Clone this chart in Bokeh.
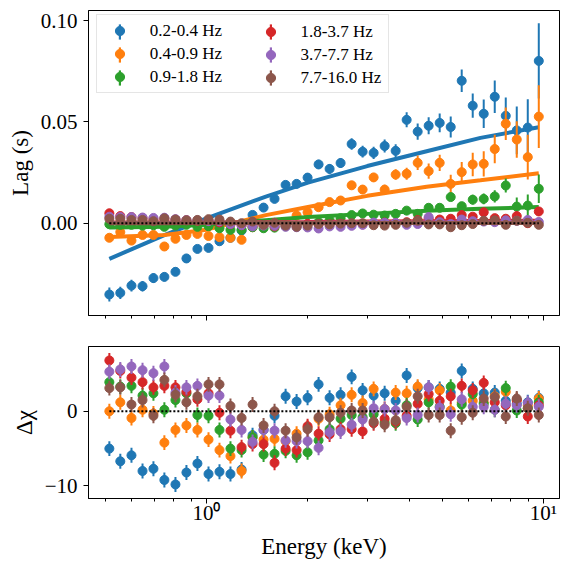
import numpy as np
from bokeh.plotting import figure
from bokeh.models import (Range1d, FixedTicker, Legend, LegendItem, ColumnDataSource,
                          NumeralTickFormatter)
from bokeh.layouts import column
from bokeh.embed import file_html
from bokeh.resources import INLINE

# ---------------- data ----------------
energy = [0.515, 0.555, 0.599, 0.646, 0.696, 0.750, 0.809, 0.872, 0.940, 1.014,
          1.093, 1.178, 1.271, 1.370, 1.477, 1.592, 1.717, 1.851, 1.995, 2.151,
          2.319, 2.500, 2.696, 2.906, 3.133, 3.378, 3.642, 3.926, 4.233, 4.563,
          4.920, 5.305, 5.719, 6.166, 6.647, 7.167, 7.727, 8.330, 8.981, 9.683]

labels = ["0.2-0.4 Hz", "0.4-0.9 Hz", "0.9-1.8 Hz", "1.8-3.7 Hz", "3.7-7.7 Hz", "7.7-16.0 Hz"]
colors = ["#1f77b4", "#ff7f0e", "#2ca02c", "#d62728", "#9467bd", "#8c564b"]

lag_b1 = [-0.0352, -0.0344, -0.0308, -0.0311, -0.0271, -0.0265, -0.0240, -0.0174, -0.0127, -0.0122,
          -0.0089, -0.0072, -0.0036, 0.0041, 0.0077, 0.0120, 0.0189, 0.0194, 0.0225, 0.0290,
          0.0268, 0.0297, 0.0391, 0.0353, 0.0347, 0.0381, 0.0357, 0.0510, 0.0452, 0.0481,
          0.0495, 0.0475, 0.0703, 0.0580, 0.0540, 0.0624, 0.0530, 0.0458, 0.0472, 0.0801]
err_b1 = [0.0035, 0.0030, 0.0029, 0.0026, 0.0024, 0.0022, 0.0021, 0.0020, 0.0019, 0.0018,
          0.0018, 0.0017, 0.0017, 0.0018, 0.0018, 0.0019, 0.0020, 0.0021, 0.0022, 0.0023,
          0.0024, 0.0025, 0.0028, 0.0029, 0.0030, 0.0032, 0.0033, 0.0037, 0.0040, 0.0042,
          0.0046, 0.0052, 0.0056, 0.0060, 0.0070, 0.0080, 0.0090, 0.0118, 0.0140, 0.0186]

lag_b2 = [-0.0072, -0.0044, -0.0086, -0.0058, -0.0058, -0.0115, -0.0077, -0.0058, -0.0053, -0.0063,
          -0.0069, -0.0072, -0.0082, -0.0020, -0.0010, -0.0004, 0.0006, 0.0038, 0.0054, 0.0079,
          0.0104, 0.0112, 0.0187, 0.0166, 0.0226, 0.0166, 0.0240, 0.0244, 0.0298, 0.0257,
          0.0298, 0.0194, 0.0252, 0.0290, 0.0293, 0.0366, 0.0491, 0.0413, 0.0326, 0.0526]
err_b2 = [0.0015, 0.0014, 0.0014, 0.0013, 0.0013, 0.0013, 0.0012, 0.0012, 0.0012, 0.0012,
          0.0012, 0.0012, 0.0012, 0.0012, 0.0013, 0.0013, 0.0014, 0.0014, 0.0015, 0.0016,
          0.0017, 0.0018, 0.0020, 0.0021, 0.0022, 0.0024, 0.0026, 0.0030, 0.0036, 0.0038,
          0.0040, 0.0045, 0.0050, 0.0058, 0.0062, 0.0070, 0.0080, 0.0090, 0.0110, 0.0155]

lag_b3 = [-0.0005, -0.0008, -0.0008, -0.0012, -0.0010, -0.0018, -0.0012, -0.0008, -0.0018, -0.0015,
          -0.0025, -0.0033, -0.0033, -0.0020, -0.0025, -0.0022, -0.0015, -0.0012, -0.0005, 0.0005,
          0.0015, 0.0025, 0.0040, 0.0048, 0.0042, 0.0038, 0.0046, 0.0062, 0.0046, 0.0076,
          0.0076, 0.0129, 0.0084, 0.0116, 0.0120, 0.0132, 0.0186, 0.0082, 0.0087, 0.0170]
err_b3 = [0.0004, 0.0004, 0.0004, 0.0004, 0.0004, 0.0004, 0.0004, 0.0004, 0.0004, 0.0004,
          0.0004, 0.0004, 0.0004, 0.0005, 0.0005, 0.0005, 0.0005, 0.0005, 0.0006, 0.0006,
          0.0007, 0.0007, 0.0008, 0.0009, 0.0009, 0.0010, 0.0011, 0.0012, 0.0014, 0.0015,
          0.0016, 0.0019, 0.0021, 0.0024, 0.0027, 0.0030, 0.0035, 0.0045, 0.0055, 0.0070]

lag_b4 = [0.0049, 0.0035, 0.0030, 0.0025, 0.0020, 0.0020, 0.0018, 0.0015, 0.0012, 0.0012,
          0.0004, -0.0005, -0.0010, -0.0009, -0.0009, -0.0016, -0.0012, -0.0013, -0.0003, -0.0006,
          -0.0007, -0.0005, -0.0005, -0.0006, -0.0001, 0.0003, 0.0001, 0.0005, 0.0015, 0.0022,
          0.0018, 0.0022, 0.0040, 0.0032, 0.0054, 0.0025, 0.0022, 0.0035, 0.0000, 0.0058]
err_b4 = [0.0007, 0.0006, 0.0006, 0.0005, 0.0005, 0.0005, 0.0005, 0.0004, 0.0004, 0.0004,
          0.0004, 0.0004, 0.0003, 0.0003, 0.0003, 0.0003, 0.0003, 0.0003, 0.0003, 0.0003,
          0.0003, 0.0003, 0.0003, 0.0004, 0.0004, 0.0004, 0.0004, 0.0005, 0.0005, 0.0005,
          0.0006, 0.0006, 0.0008, 0.0008, 0.0011, 0.0012, 0.0014, 0.0016, 0.0018, 0.0022]

lag_b5 = [0.0032, 0.0030, 0.0030, 0.0028, 0.0026, 0.0027, 0.0020, 0.0015, 0.0014, 0.0010,
          0.0009, -0.0004, -0.0010, -0.0016, -0.0012, -0.0013, -0.0018, -0.0020, -0.0021, -0.0026,
          -0.0016, -0.0018, -0.0013, -0.0008, 0.0003, 0.0002, 0.0001, -0.0008, -0.0004, 0.0030,
          0.0005, -0.0004, 0.0018, 0.0010, 0.0008, 0.0005, 0.0014, 0.0012, 0.0016, 0.0006]
err_b5 = [0.0005, 0.0005, 0.0005, 0.0005, 0.0005, 0.0004, 0.0004, 0.0004, 0.0004, 0.0004,
          0.0004, 0.0004, 0.0004, 0.0004, 0.0004, 0.0004, 0.0004, 0.0004, 0.0004, 0.0004,
          0.0004, 0.0004, 0.0005, 0.0005, 0.0005, 0.0005, 0.0005, 0.0006, 0.0006, 0.0007,
          0.0007, 0.0008, 0.0009, 0.0010, 0.0011, 0.0012, 0.0013, 0.0015, 0.0017, 0.0020]

lag_b6 = [0.0022, 0.0022, 0.0016, 0.0016, 0.0010, 0.0024, 0.0018, 0.0014, 0.0016, 0.0020,
          0.0018, 0.0008, 0.0000, 0.0008, -0.0008, 0.0002, -0.0012, -0.0018, -0.0012, -0.0004,
          -0.0006, -0.0002, 0.0000, 0.0000, -0.0010, -0.0012, -0.0008, 0.0002, 0.0012, -0.0006,
          -0.0006, -0.0020, -0.0010, -0.0004, 0.0012, 0.0014, -0.0008, 0.0012, 0.0002, -0.0008]
err_b6 = [0.0005, 0.0005, 0.0005, 0.0005, 0.0005, 0.0005, 0.0004, 0.0004, 0.0004, 0.0004,
          0.0004, 0.0004, 0.0004, 0.0004, 0.0004, 0.0004, 0.0004, 0.0004, 0.0004, 0.0004,
          0.0004, 0.0004, 0.0005, 0.0005, 0.0005, 0.0005, 0.0005, 0.0006, 0.0006, 0.0007,
          0.0007, 0.0008, 0.0009, 0.0010, 0.0011, 0.0012, 0.0013, 0.0015, 0.0017, 0.0020]

# model curves
model_energy = [0.515, 0.750, 1.0, 1.5, 2.0, 3.0, 4.5, 6.5, 9.683]
model_b1 = [-0.0176, -0.0059, 0.0024, 0.0131, 0.0200, 0.0282, 0.0355, 0.0421, 0.0474]
model_b2 = [-0.0068, -0.0058, -0.0032, 0.0040, 0.0080, 0.0135, 0.0180, 0.0212, 0.0247]
model_b3 = [-0.0021, -0.0017, -0.0008, 0.0015, 0.0030, 0.0046, 0.0061, 0.0071, 0.0080]
model_b4 = [0.0003, 0.0003, 0.0004, 0.0005, 0.0006, 0.0008, 0.0010, 0.0011, 0.0012]
model_b5 = [0.0001, 0.0001, 0.0002, 0.0002, 0.0002, 0.0003, 0.0003, 0.0003, 0.0004]
model_b6 = [0.0000, 0.0000, 0.0001, 0.0001, 0.0001, 0.0001, 0.0001, 0.0001, 0.0001]

# residuals (delta chi), unit error bars
res_b1 = [-5.0, -6.7, -5.9, -8.0, -7.7, -9.2, -9.8, -8.2, -7.0, -8.4,
          -8.1, -8.4, -7.8, -3.2, -2.5, -0.6, 2.0, 1.3, 1.8, 3.6,
          1.8, 2.2, 4.6, 2.8, 2.1, 2.4, 1.4, 4.8, 3.1, 3.2,
          3.0, 2.5, 5.4, 3.0, 2.4, 2.5, 1.4, 1.0, 1.2, 1.8]
res_b2 = [0.0, 1.2, -0.9, 0.2, -0.3, -4.2, -2.5, -1.9, -2.5, -3.8,
          -5.2, -6.0, -8.0, -3.5, -3.8, -3.7, -4.0, -3.0, -2.2, -1.0,
          -0.4, 0.8, 2.2, 1.1, 3.0, 0.3, 2.5, 2.4, 3.3, 1.6,
          2.8, 0.1, 1.2, 1.4, 1.2, 2.0, 2.6, 1.5, 0.8, 1.7]
res_b3 = [3.9, 3.3, 3.4, 2.1, 2.4, 0.2, 1.5, 2.4, -0.5, -0.6,
          -2.5, -5.0, -5.2, -3.5, -5.8, -5.7, -5.3, -5.9, -5.5, -3.9,
          -2.4, -1.0, -0.5, -0.8, -0.4, -1.5, -1.6, 0.8, -1.1, 1.2,
          0.6, 3.3, 0.9, 2.3, 1.0, 0.2, 3.1, 0.1, 0.4, 1.2]
res_b4 = [6.8, 5.4, 4.5, 3.9, 3.2, 3.4, 3.2, 2.6, 1.6, 2.4,
          -0.2, -2.6, -4.8, -4.4, -4.4, -6.9, -5.0, -5.2, -2.0, -3.0,
          -3.1, -2.4, -2.4, -2.7, -1.6, -1.0, -1.4, -0.6, 1.0, 2.3,
          1.4, 2.0, 3.4, 2.8, 3.8, 1.2, 0.8, 1.5, -0.7, 0.8]
res_b5 = [5.3, 5.6, 6.0, 5.5, 5.1, 6.0, 2.5, 3.2, 3.4, 2.1,
          2.1, -1.1, -2.5, -4.1, -2.5, -2.6, -3.9, -4.0, -4.0, -4.9,
          -2.8, -2.7, -1.8, -1.1, 0.4, 0.3, 0.1, -0.9, -0.5, 3.2,
          0.5, -0.4, 1.6, 0.6, 0.6, 0.2, 1.0, 0.8, 1.1, 0.6]
res_b6 = [3.1, 3.2, 0.9, 1.5, -0.6, 4.2, 2.2, 1.2, 2.0, 3.6,
          3.6, 0.7, -0.9, 0.9, -1.9, 0.0, -2.6, -3.5, -2.4, -0.8,
          -0.8, -0.2, 0.1, 0.1, -1.4, -1.8, -1.2, 0.6, 2.0, -0.5,
          -0.5, -2.6, -0.8, -0.2, 1.7, 1.9, -0.7, 1.7, 0.4, -0.5]
res_err = 1.0

lags = [lag_b1, lag_b2, lag_b3, lag_b4, lag_b5, lag_b6]
errs = [err_b1, err_b2, err_b3, err_b4, err_b5, err_b6]
models = [model_b1, model_b2, model_b3, model_b4, model_b5, model_b6]
resids = [res_b1, res_b2, res_b3, res_b4, res_b5, res_b6]

# ---------------- styling ----------------
FONT = "Liberation Serif"
x_range = Range1d(0.4466, 11.155)
x_ticker = FixedTicker(ticks=[1, 10], minor_ticks=[0.5, 0.6, 0.7, 0.8, 0.9, 2, 3, 4, 5, 6, 7, 8, 9])


def style(p):
    p.outline_line_color = "black"
    p.outline_line_width = 1
    p.outline_line_alpha = 1
    p.grid.visible = False
    p.background_fill_color = "white"
    p.border_fill_color = "white"
    for ax in p.axis:
        ax.axis_line_color = "black"
        ax.major_tick_out = 5
        ax.major_tick_in = 0
        ax.minor_tick_out = 3
        ax.minor_tick_in = 0
        ax.major_tick_line_color = "black"
        ax.minor_tick_line_color = "black"
        ax.major_label_text_font = FONT
        ax.major_label_text_font_size = "21px"
        ax.major_label_text_color = "black"
        ax.axis_label_text_font = FONT
        ax.axis_label_text_font_size = "23px"
        ax.axis_label_text_font_style = "normal"
        ax.axis_label_text_color = "black"


top = figure(frame_width=471, frame_height=305, x_axis_type="log", x_range=x_range,
             y_range=Range1d(-0.04556, 0.10498), output_backend="svg", toolbar_location=None,
             min_border_left=88, min_border_right=10, min_border_top=10, min_border_bottom=31)
style(top)
top.xaxis.ticker = x_ticker
top.xaxis.major_label_overrides = {1: "", 10: ""}
top.xaxis.major_label_text_font_size = "1px"
top.yaxis.ticker = FixedTicker(ticks=[0.0, 0.05, 0.1], minor_ticks=[])
top.yaxis.formatter = NumeralTickFormatter(format="0.00")
top.yaxis.axis_label = "Lag (s)"
top.yaxis.major_label_standoff = 6
top.yaxis.axis_label_standoff = 5

bot = figure(frame_width=471, frame_height=152, x_axis_type="log", x_range=x_range,
             y_range=Range1d(-11.68, 8.67), output_backend="svg", toolbar_location=None,
             min_border_left=88, min_border_right=10, min_border_top=0, min_border_bottom=70)
style(bot)
bot.xaxis.ticker = x_ticker
bot.xaxis.major_label_overrides = {1: "10\u2070", 10: "10\u00b9"}
bot.xaxis.axis_label = "Energy (keV)"
bot.xaxis.major_label_standoff = -3
bot.xaxis.axis_label_standoff = 6
bot.yaxis.ticker = FixedTicker(ticks=[-10, 0], minor_ticks=[])
bot.yaxis.major_label_overrides = {-10: "\u221210", 0: "0"}
bot.yaxis.axis_label = "\u0394\u03c7"
bot.yaxis.major_label_standoff = 6
bot.yaxis.axis_label_standoff = 5

circ_r = []
bar_r = []
for k in range(6):
    c = colors[k]
    y = np.array(lags[k])
    e = np.array(errs[k])
    src = ColumnDataSource(dict(x=energy, y=y, lo=y - e, hi=y + e))
    top.segment(x0="x", y0="lo", x1="x", y1="hi", source=src, line_color=c, line_width=2)
    r = top.scatter(x="x", y="y", source=src, size=9, fill_color=c, line_color=c, line_width=1)
    b = top.vbar(x="x", width=0, bottom="lo", top="hi", source=src, fill_color=c,
                 line_color=None, fill_alpha=1)
    circ_r.append(r)
    bar_r.append(b)
    top.line(model_energy, models[k], line_color=c, line_width=4)

top.line([energy[0], energy[-1]], [0, 0], line_color="black", line_width=2, line_dash="2 2")

for k in range(6):
    c = colors[k]
    r = np.array(resids[k])
    src = ColumnDataSource(dict(x=energy, y=r, lo=r - res_err, hi=r + res_err))
    bot.segment(x0="x", y0="lo", x1="x", y1="hi", source=src, line_color=c, line_width=2)
    bot.scatter(x="x", y="y", source=src, size=9, fill_color=c, line_color=c, line_width=1)

bot.line([energy[0], energy[-1]], [0, 0], line_color="black", line_width=2, line_dash="2 2")

# ---------------- legend (two columns built from aligned legends) ----------------
lt = dict(label_text_font=FONT, label_text_font_size="17px", label_text_color="black",
          glyph_height=23, label_height=23, spacing=0, padding=4, glyph_width=37,
          label_standoff=12, label_width=234, border_line_color="#cccccc", border_line_width=1,
          background_fill_color="white")
legA = Legend(items=[LegendItem(label=labels[k], renderers=[circ_r[k]]) for k in range(3)],
              location=(7.8, 221.7), background_fill_alpha=0.8, **lt)
legA2 = Legend(items=[LegendItem(label=labels[k], renderers=[circ_r[k]]) for k in range(3, 6)],
               location=(159.5, 221.7), background_fill_alpha=0, border_line_alpha=0, **lt)
bt = dict(glyph_width=3, glyph_height=19, label_height=19, spacing=4, padding=0,
          label_standoff=0, label_width=0, label_text_font_size="1px",
          border_line_color=None, background_fill_alpha=0)
legB1 = Legend(items=[LegendItem(label=" ", renderers=[bar_r[k]]) for k in range(3)],
               location=(29.5, 227.7), **bt)
legB2 = Legend(items=[LegendItem(label=" ", renderers=[bar_r[k]]) for k in range(3, 6)],
               location=(180.5, 227.7), **bt)
for lg in (legA, legA2, legB1, legB2):
    top.add_layout(lg, "center")

layout = column(top, bot, spacing=0)
open("out.html", "w").write(file_html(layout, INLINE))
